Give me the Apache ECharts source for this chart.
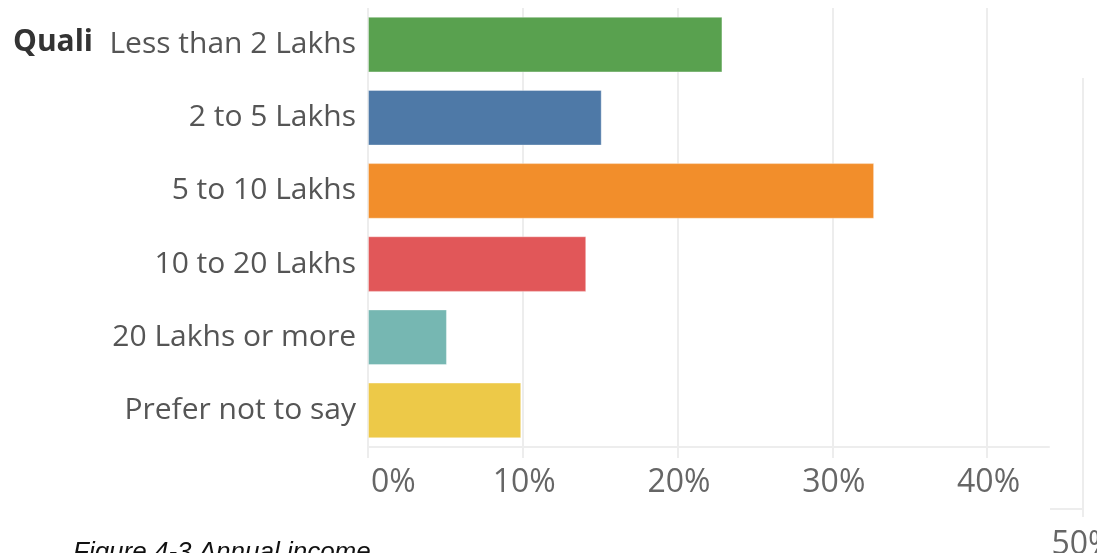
<!DOCTYPE html>
<html>
<head>
<meta charset="utf-8">
<script src="https://cdn.jsdelivr.net/npm/echarts@6/dist/echarts.min.js"></script>
<style>
  html, body { margin: 0; padding: 0; background: #fff; }
  #chart { width: 1097px; height: 553px; }
</style>
</head>
<body>
<div id="chart"></div>
<script>
// income bands, top to bottom
var categories = ['Less than 2 Lakhs', '2 to 5 Lakhs', '5 to 10 Lakhs', '10 to 20 Lakhs', '20 Lakhs or more', 'Prefer not to say'];
var shares = [22.9, 15.1, 32.7, 14.1, 5.1, 9.9];
var barColors = ['#59A14F', '#4E79A7', '#F28E2B', '#E15759', '#76B7B2', '#EDC948'];
var xTicks = [0, 10, 20, 30, 40];
var nextChartTicks = [0, 10, 20, 30, 40, 50];

var gridGrey = '#ededed';

var myChart = echarts.init(document.getElementById('chart'));

var option = {
    backgroundColor: '#fff',
    animation: false,
    title: [{
        text: 'Quali',
        left: 13,
        top: 27,
        padding: 0,
        z: 4,
        textStyle: {
            fontFamily: 'Open Sans',
            fontWeight: 'bold',
            fontSize: 30,
            color: '#333'
        }
    }, {
        text: 'Figure 4-3 Annual income',
        left: 73,
        top: 540,
        padding: 0,
        z: 4,
        textStyle: {
            fontFamily: 'Liberation Sans',
            fontStyle: 'italic',
            fontWeight: 'normal',
            fontSize: 26,
            color: '#111'
        }
    }],
    grid: [{
        left: 368,
        width: 681,
        top: 8,
        height: 439,
        outerBoundsMode: 'none'
    }, {
        // the next figure peeking out underneath
        left: 309,
        width: 774,
        top: 78,
        bottom: 44,
        outerBoundsMode: 'none'
    }],
    xAxis: [{
        type: 'value',
        min: 0,
        max: 44,
        interval: 10,
        z: 2,
        axisLine: { show: true, lineStyle: { color: gridGrey, width: 2 } },
        axisTick: { show: true, length: 11, customValues: xTicks, lineStyle: { color: gridGrey, width: 2 } },
        splitLine: { show: true, lineStyle: { color: [gridGrey, gridGrey, gridGrey, gridGrey, gridGrey, 'rgba(0,0,0,0)'], width: 2 } },
        axisLabel: {
            customValues: xTicks,
            formatter: '{value}%',
            fontFamily: 'Open Sans',
            fontSize: 32,
            color: '#666',
            margin: 20,
            alignMinLabel: 'left',
            padding: [0, 0, 0, 3]
        }
    }, {
        type: 'value',
        gridIndex: 1,
        min: 0,
        max: 50,
        interval: 10,
        z: 0,
        axisLine: { show: true, lineStyle: { color: gridGrey, width: 2 } },
        axisTick: { show: true, length: 8, lineStyle: { color: gridGrey, width: 2 } },
        splitLine: { show: true, lineStyle: { color: gridGrey, width: 2 } },
        axisLabel: {
            customValues: nextChartTicks,
            formatter: '{value}%',
            fontFamily: 'Open Sans',
            fontSize: 32,
            color: '#666',
            margin: 20
        }
    }],
    yAxis: [{
        type: 'category',
        inverse: true,
        data: categories,
        z: 2,
        axisLine: { show: false },
        axisTick: { show: false },
        axisLabel: {
            fontFamily: 'Open Sans',
            fontSize: 30,
            color: '#555',
            margin: 12
        }
    }, {
        type: 'category',
        gridIndex: 1,
        show: false,
        data: categories
    }],
    graphic: {
        elements: [{
            type: 'rect',
            z: 1,
            silent: true,
            shape: { x: 0, y: 0, width: 1050, height: 553 },
            style: { fill: '#fff' }
        }]
    },
    series: [{
        type: 'bar',
        xAxisIndex: 0,
        yAxisIndex: 0,
        z: 3,
        barWidth: '76%',
        data: shares,
        itemStyle: {
            color: function (p) { return barColors[p.dataIndex]; },
            borderColor: 'rgba(255,255,255,0.35)',
            borderWidth: 1
        }
    }]
};

myChart.setOption(option);
</script>
</body>
</html>
